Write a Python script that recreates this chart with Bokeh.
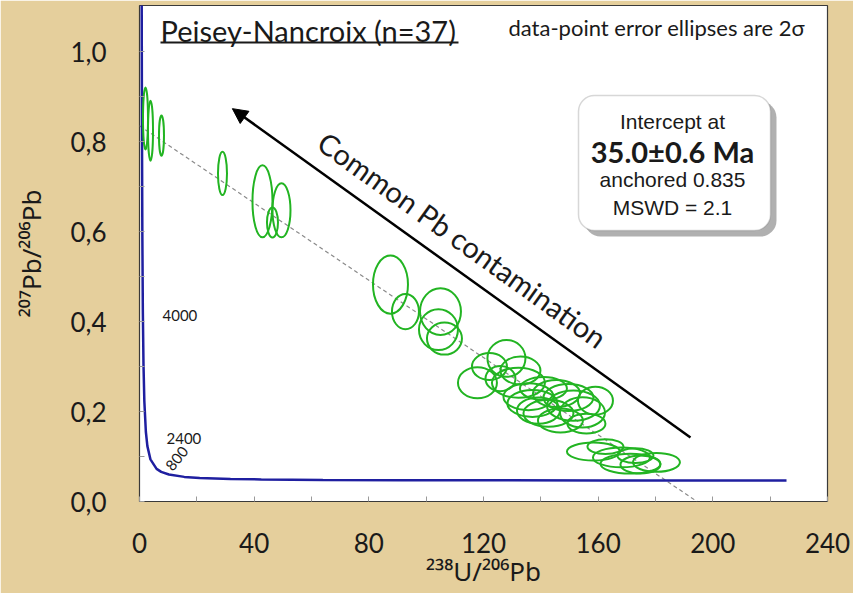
import math
from bokeh.plotting import figure
from bokeh.models import Label, Arrow, NormalHead, BoxAnnotation, FixedTicker
from bokeh.embed import file_html
from bokeh.resources import INLINE

# ---------------- data ----------------
x_ticks = [0, 40, 80, 120, 160, 200, 240]
x_minor = [20, 60, 100, 140, 180, 220]
y_ticks = [0.0, 0.2, 0.4, 0.6, 0.8, 1.0]
y_minor = [0.1, 0.3, 0.5, 0.7, 0.9]
y_tick_labels = ["0,0", "0,2", "0,4", "0,6", "0,8", "1,0"]
x_title = "²³⁸U/²⁰⁶Pb"
y_title = "²⁰⁷Pb/²⁰⁶Pb"

# error ellipses (centre x, centre y, full width, full height)
ell_x = [2.09, 3.84, 7.67, 28.95, 42.90, 46.39, 49.53, 87.55, 92.78, 104.99, 104.29, 106.38,
         128.0, 122.08, 117.89, 125.92, 132.19, 145.45, 135.68, 137.08, 139.17, 151.38,
         154.52, 155.91, 142.66, 149.63, 140.91, 158.35, 162.54, 168.12, 173.0, 171.26,
         180.33, 174.75, 132.89, 159.05, 146.84]
ell_y = [0.851, 0.824, 0.813, 0.729, 0.667, 0.620, 0.647, 0.482, 0.422, 0.422, 0.382, 0.362,
         0.318, 0.300, 0.264, 0.273, 0.264, 0.240, 0.233, 0.218, 0.202, 0.213,
         0.198, 0.173, 0.196, 0.231, 0.251, 0.111, 0.122, 0.098, 0.102, 0.084,
         0.087, 0.082, 0.291, 0.224, 0.180]
ell_w = [1.74, 1.74, 1.74, 3.14, 6.98, 3.84, 6.28, 12.21, 9.42, 14.30, 13.60, 12.21,
         13.25, 12.21, 13.60, 10.46, 18.49, 16.39, 17.44, 17.44, 15.0, 18.49,
         15.70, 13.25, 17.44, 17.44, 16.39, 18.49, 12.56, 19.88, 12.56, 20.93,
         16.39, 13.95, 13.95, 12.21, 15.70]
ell_h = [0.138, 0.133, 0.089, 0.096, 0.160, 0.067, 0.120, 0.129, 0.078, 0.104, 0.091, 0.071,
         0.082, 0.060, 0.069, 0.056, 0.067, 0.060, 0.060, 0.060, 0.058, 0.067,
         0.067, 0.044, 0.060, 0.060, 0.051, 0.040, 0.033, 0.044, 0.033, 0.044,
         0.042, 0.040, 0.062, 0.062, 0.053]

# Tera-Wasserburg concordia
concordia_x = [0.763, 0.853, 0.990, 1.163, 1.387, 1.687, 2.217, 2.749, 3.817, 5.960, 7.568,
               10.25, 15.62, 20.99, 31.74, 42.48, 63.97, 91.59, 128.4, 160.7, 194.9, 225.7]
concordia_y = [1.123, 0.845, 0.597, 0.425, 0.306, 0.223, 0.155, 0.123, 0.0936, 0.0725, 0.0658,
               0.0599, 0.0547, 0.0523, 0.0501, 0.0490, 0.0480, 0.0474, 0.0470, 0.0468, 0.0467, 0.0466]

# anchored discordia (207/206 = 0.835, intercept 35.0 Ma)
disc_x = [0.0, 183.6, 194.5]
disc_y = [0.835, 0.0467, 0.0]

# common-Pb arrow (tail, head)
arrow_x = [192.2, 32.4]
arrow_y = [0.142, 0.873]

# ---------------- figure ----------------
BG = "#E5CF9C"
FONT = "Lato"
p = figure(frame_width=688, frame_height=496, x_range=(0, 240), y_range=(0, 496 / 450.0),
           output_backend="svg", toolbar_location=None, title=None,
           min_border_left=139, min_border_right=26, min_border_top=5, min_border_bottom=92)
p.border_fill_color = BG
p.background_fill_color = "white"
p.outline_line_color = "#3a3a3a"
p.outline_line_width = 1.2
p.xgrid.visible = False
p.ygrid.visible = False

for ax in (p.xaxis[0], p.yaxis[0]):
    ax.axis_line_color = None
    ax.major_tick_in = 5
    ax.major_tick_out = 0
    ax.minor_tick_in = 5
    ax.minor_tick_out = 0
    ax.major_tick_line_color = "#9a9a9a"
    ax.minor_tick_line_color = "#9a9a9a"
    ax.major_label_text_font = FONT
    ax.major_label_text_font_size = "26px"
    ax.major_label_text_color = "#1a1a1a"
    ax.axis_label_text_font = "Noto Sans"
    ax.axis_label_text_font_size = "26px"
    ax.axis_label_text_font_style = "normal"
    ax.axis_label_text_color = "#1a1a1a"

p.xaxis.ticker = FixedTicker(ticks=x_ticks, minor_ticks=x_minor)
p.yaxis.ticker = FixedTicker(ticks=y_ticks, minor_ticks=y_minor)
p.yaxis.major_label_overrides = {t: l for t, l in zip(y_ticks, y_tick_labels)}
p.xaxis.major_label_standoff = 31
p.yaxis.major_label_standoff = 33
p.xaxis.axis_label = x_title
p.yaxis.axis_label = y_title
p.xaxis.axis_label_standoff = -3
p.yaxis.axis_label_standoff = 18

# discordia
p.line(disc_x, disc_y, line_color="#8a8a8a", line_width=1.2, line_dash="4 3")
# concordia
p.line(concordia_x, concordia_y, line_color="#1f1fa0", line_width=2.5)
# ellipses
p.ellipse(x=ell_x, y=ell_y, width=ell_w, height=ell_h, fill_color=None,
          line_color="#22B422", line_width=2)

# arrow
p.add_layout(Arrow(end=NormalHead(size=15, fill_color="black", line_color="black"),
                   x_start=arrow_x[0], y_start=arrow_y[0], x_end=arrow_x[1], y_end=arrow_y[1],
                   line_color="black", line_width=2.5))


def dx(px):
    return (px - 139) / 2.8667


def dy(py):
    return (501 - py) / 450.0


def lab(text, px, py, size, font=FONT, style="normal", align="left", angle=0.0,
        color="#1a1a1a"):
    p.add_layout(Label(x=dx(px), y=dy(py), text=text, text_font=font,
                       text_font_size=f"{size}px", text_font_style=style,
                       text_align=align, text_baseline="middle", angle=angle,
                       text_color=color))


# title + underline
lab("Peisey-Nancroix (n=37)", 160, 30, 29)
p.add_layout(BoxAnnotation(left=dx(160), right=dx(458), top=dy(41), bottom=dy(43),
                           fill_color="#1a1a1a", fill_alpha=1, line_color=None))
lab("data-point error ellipses are 2σ", 508, 27, 22)

# intercept box with shadow
p.add_layout(BoxAnnotation(left=dx(584), right=dx(776), top=dy(101), bottom=dy(236),
                           fill_color="#8f8f8f", fill_alpha=0.7, line_color=None,
                           border_radius=16))
p.add_layout(BoxAnnotation(left=dx(578), right=dx(770), top=dy(95), bottom=dy(230),
                           fill_color="white", fill_alpha=1, line_color="#7a7a7a",
                           line_width=1.5, border_radius=16))
lab("Intercept at", 672, 121, 21, font="Liberation Sans", align="center")
lab("35.0±0.6 Ma", 672, 151, 29, style="bold", align="center")
lab("anchored 0.835", 672, 179, 21, font="Liberation Sans", align="center")
lab("MSWD = 2.1", 672, 207, 21, font="Liberation Sans", align="center")

# arrow text
ang = -math.atan(329 / 458)
lab("Common Pb contamination", 462, 239, 29, align="center", angle=ang)

# concordia age labels
lab("4000", 162, 315, 15)
lab("2400", 166, 438, 15)
lab("800", 168, 468, 15, angle=0.88)

open("out.html", "w").write(file_html(p, INLINE))
